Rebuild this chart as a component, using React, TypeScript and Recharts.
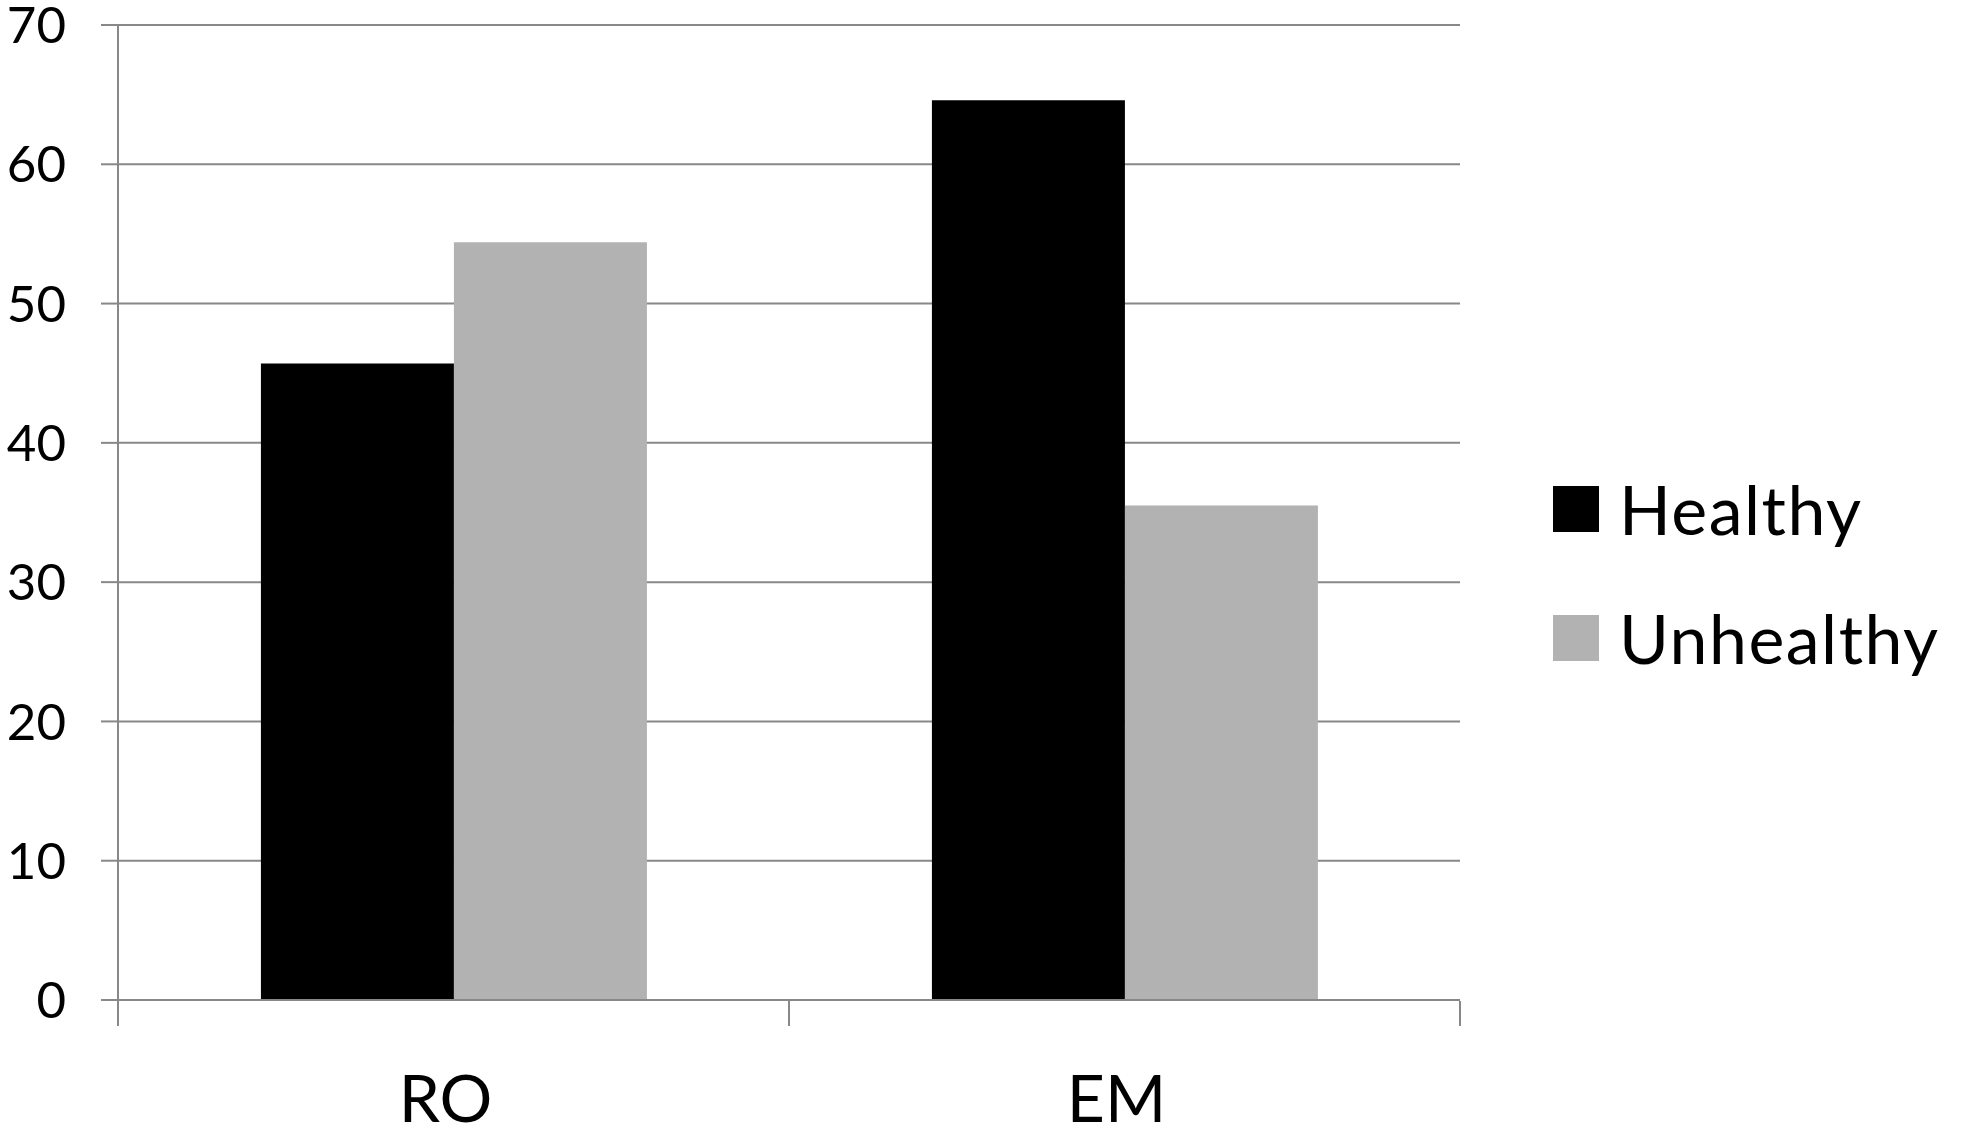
import { Bar, BarChart, CartesianGrid, XAxis, YAxis } from "recharts";

const groups = ["RO", "EM"];
const healthy = [45.7, 64.6];
const unhealthy = [54.4, 35.5];
const yTicks = [0, 10, 20, 30, 40, 50, 60, 70];
// category boundaries as fractions of the x range
const edgeTicks = [0, 0.5, 1];

const series = [
  { key: "healthy", name: "Healthy", color: "#000000" },
  { key: "unhealthy", name: "Unhealthy", color: "#b2b2b2" }
];

const rows = groups.map((g, i) => ({ group: g, healthy: healthy[i], unhealthy: unhealthy[i] }));

const font = "Lato, 'Open Sans', sans-serif";
const lineColor = "#888888";

export default function App() {
  return (
    <div style={{ position: "fixed", left: 0, top: 0, width: 1961, height: 1135, background: "#fff", fontFamily: font }}>
      <BarChart
        width={1961}
        height={1135}
        data={rows}
        margin={{ top: 25, right: 501, left: 0, bottom: 133 }}
        barCategoryGap="21.3%"
        barGap={0}
      >
        <CartesianGrid horizontal vertical={false} stroke={lineColor} strokeWidth={2} />
        {/* tick marks at the category boundaries, labels blanked */}
        <XAxis
          xAxisId="edge"
          type="number"
          scale="linear"
          domain={[0, 1]}
          ticks={edgeTicks}
          interval={0}
          allowDataOverflow
          tickFormatter={() => ""}
          tickSize={25}
          tickLine={{ stroke: lineColor, strokeWidth: 2 }}
          axisLine={false}
          height={1}
        />
        <XAxis
          dataKey="group"
          tickLine={false}
          axisLine={{ stroke: lineColor, strokeWidth: 2 }}
          tickSize={0}
          tickMargin={75}
          height={1}
          tick={{ fill: "#000", fontSize: 66, fontFamily: font, dx: -8 }}
        />
        <YAxis
          width={118}
          domain={[0, 70]}
          ticks={yTicks}
          interval={0}
          tickSize={17}
          tickMargin={35}
          tickLine={{ stroke: lineColor, strokeWidth: 2 }}
          axisLine={{ stroke: lineColor, strokeWidth: 2 }}
          tick={{ fill: "#000", fontSize: 51, fontFamily: font }}
        />
        {series.map((s) => (
          <Bar key={s.key} dataKey={s.key} name={s.name} fill={s.color} isAnimationActive={false} />
        ))}
      </BarChart>
      <div style={{ position: "absolute", left: 1553, top: 444, display: "flex", flexDirection: "column" }}>
        {series.map((s) => (
          <div key={s.key} style={{ height: 129, display: "flex", alignItems: "center" }}>
            <span style={{ width: 46, height: 46, background: s.color, display: "inline-block", marginRight: 20 }} />
            <span style={{ fontSize: 68, color: "#000", lineHeight: 1.2, letterSpacing: 1.5 }}>{s.name}</span>
          </div>
        ))}
      </div>
    </div>
  );
}
